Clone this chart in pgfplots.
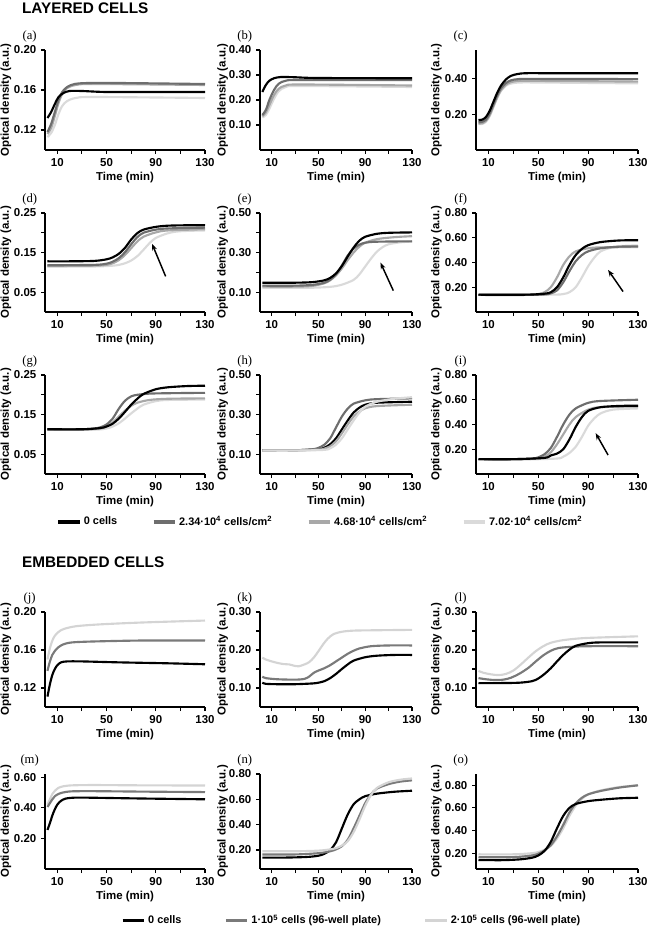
\documentclass[border=0pt]{standalone}
\usepackage{pgfplots}
\pgfplotsset{compat=1.18}
\usepackage{fontspec}
\setmainfont{Liberation Sans}
\newfontfamily\seriffam{Liberation Serif}
\usetikzlibrary{arrows.meta}

\definecolor{cA}{HTML}{000000}
\definecolor{cB}{HTML}{6E6E6E}
\definecolor{cC}{HTML}{A8A8A8}
\definecolor{cD}{HTML}{DADADA}
\definecolor{eB}{HTML}{7A7A7A}
\definecolor{eC}{HTML}{D4D4D4}

\newcommand\tickfont{\bfseries\fontsize{8.6}{9}\selectfont}
\newcommand\labfont{\seriffam\fontsize{9.5}{10}\selectfont}
\newcommand\legfont{\bfseries\fontsize{8.2}{9}\selectfont}
\newcommand\headfont{\bfseries\fontsize{11.5}{12}\selectfont}

\pgfplotsset{
  panel/.style={
    scale only axis,
    anchor=south west,
    axis x line*=bottom, axis y line*=left,
    axis line style={-, line width=0.8pt},
    tick style={black, line width=0.8pt},
    tick align=outside,
    major tick length=3pt, minor tick length=3pt,
    xmin=0, xmax=130,
    xtick={10,50,90,130}, minor xtick={30,70,110},
    xlabel={Time (min)},
    ylabel={Optical density (a.u.)},
    tick label style={font=\tickfont},
    label style={font=\tickfont},
    xlabel style={yshift=3pt},
    /pgf/number format/assume math mode=true,
    y tick label style={/pgf/number format/.cd, fixed, fixed zerofill, precision=2, /tikz/.cd},
    every axis y label/.style={at={(axis description cs:-0.245,0.5)}, rotate=90, anchor=center, font=\tickfont},
    title style={at={(axis description cs:0,1)}, anchor=center, xshift=-11.5pt, yshift=4.5pt, font=\labfont},
    every axis plot/.append style={line width=1.6pt, smooth, tension=0.5, no markers},
    legend image code/.code={\draw[#1, line width=2.4pt, sharp plot] (0pt,0pt) -- (16pt,0pt);},
  },
  c1/.style={panel, at={(33.75pt,#1)}, width=120pt},
  c2/.style={panel, at={(195pt,#1)}, width=114pt},
  c3/.style={panel, at={(357pt,#1)}, width=121.5pt},
}

\begin{document}
\begin{tikzpicture}
\path[use as bounding box] (0,0) rectangle (489pt,-700.5pt);
\node[anchor=west, font=\headfont] at (13pt,-6.5pt) {LAYERED CELLS};
\node[anchor=west, font=\headfont] at (13pt,-421.5pt) {EMBEDDED CELLS};

% ---------- row 1 ----------
\begin{axis}[c1={-112.5pt}, height=75pt, title={(a)}, ymin=0.10, ymax=0.20, ytick={0.12,0.16,0.20}]
\addplot[cD] coordinates {(2,0.113)(5,0.117)(8,0.125)(11,0.136)(14,0.144)(18,0.149)(25,0.152)(40,0.153)(130,0.152)};
\addplot[cC] coordinates {(2,0.116)(5,0.122)(8,0.134)(11,0.147)(14,0.156)(18,0.162)(25,0.165)(40,0.166)(130,0.165)};
\addplot[cB] coordinates {(2,0.118)(5,0.126)(8,0.138)(11,0.150)(14,0.158)(18,0.163)(24,0.166)(35,0.167)(60,0.167)(130,0.166)};
\addplot[cA] coordinates {(2,0.132)(5,0.138)(8,0.146)(11,0.153)(15,0.157)(20,0.159)(30,0.159)(50,0.158)(90,0.158)(130,0.158)};
\end{axis}

\begin{axis}[c2={-112.5pt}, height=75pt, title={(b)}, ymin=0, ymax=0.40, ytick={0.10,0.20,0.30,0.40}]
\addplot[cD] coordinates {(2,0.13)(5,0.14)(8,0.165)(12,0.205)(16,0.235)(22,0.252)(35,0.256)(130,0.252)};
\addplot[cC] coordinates {(2,0.135)(5,0.15)(8,0.18)(12,0.22)(16,0.245)(22,0.258)(35,0.262)(130,0.258)};
\addplot[cB] coordinates {(2,0.14)(5,0.16)(8,0.20)(12,0.24)(16,0.265)(22,0.277)(35,0.28)(130,0.28)};
\addplot[cA] coordinates {(2,0.232)(5,0.26)(8,0.277)(12,0.287)(18,0.292)(30,0.291)(50,0.288)(130,0.287)};
\end{axis}

\begin{axis}[c3={-112.5pt}, height=75pt, title={(c)}, ymin=0, ymax=0.56, ytick={0.20,0.40}]
\addplot[cD] coordinates {(2,0.145)(5,0.146)(8,0.158)(11,0.19)(14,0.24)(17,0.29)(20,0.33)(24,0.36)(28,0.372)(35,0.378)(50,0.378)(130,0.373)};
\addplot[cC] coordinates {(2,0.148)(5,0.15)(8,0.163)(11,0.195)(14,0.245)(17,0.295)(20,0.335)(24,0.365)(28,0.38)(35,0.387)(50,0.387)(130,0.383)};
\addplot[cB] coordinates {(2,0.155)(5,0.158)(8,0.17)(11,0.205)(14,0.255)(17,0.305)(20,0.345)(24,0.375)(28,0.39)(34,0.397)(45,0.398)(130,0.397)};
\addplot[cA] coordinates {(2,0.168)(5,0.17)(8,0.185)(11,0.22)(14,0.27)(17,0.32)(20,0.36)(24,0.395)(28,0.415)(33,0.425)(40,0.43)(60,0.43)(130,0.43)};
\end{axis}

% ---------- row 2 ----------
\begin{axis}[c1={-234pt}, height=74.25pt, title={(d)}, ymin=0, ymax=0.25, ytick={0.05,0.15,0.25}, minor ytick={0.10,0.20}]
\addplot[cD] coordinates {(2,0.115)(40,0.115)(55,0.117)(60,0.119)(65,0.123)(70,0.13)(75,0.141)(80,0.157)(85,0.174)(90,0.187)(100,0.199)(110,0.204)(130,0.206)};
\addplot[cC] coordinates {(2,0.116)(40,0.117)(50,0.119)(55,0.123)(60,0.131)(65,0.144)(70,0.161)(75,0.178)(80,0.19)(90,0.201)(100,0.206)(130,0.209)};
\addplot[cB] coordinates {(2,0.118)(40,0.119)(50,0.122)(55,0.127)(60,0.136)(65,0.151)(70,0.171)(75,0.189)(80,0.2)(90,0.208)(100,0.211)(130,0.213)};
\addplot[cA] coordinates {(2,0.128)(20,0.128)(40,0.129)(50,0.133)(55,0.138)(60,0.147)(65,0.162)(70,0.183)(75,0.199)(80,0.208)(90,0.215)(100,0.218)(115,0.219)(130,0.219)};
\draw[-{Stealth[length=5pt]}, line width=1.1pt] (axis cs:98,0.09) -- (axis cs:87,0.172);
\end{axis}

\begin{axis}[c2={-234pt}, height=74.25pt, title={(e)}, ymin=0, ymax=0.50, ytick={0.10,0.30,0.50}, minor ytick={0.20,0.40}]
\addplot[cD] coordinates {(2,0.122)(40,0.122)(60,0.127)(70,0.138)(80,0.162)(85,0.19)(90,0.23)(95,0.27)(100,0.305)(105,0.328)(110,0.342)(120,0.352)(130,0.356)};
\addplot[cC] coordinates {(2,0.128)(30,0.128)(45,0.132)(55,0.145)(60,0.16)(65,0.185)(70,0.22)(75,0.262)(80,0.3)(85,0.33)(90,0.35)(100,0.368)(115,0.378)(130,0.383)};
\addplot[cB] coordinates {(2,0.133)(30,0.133)(45,0.137)(55,0.148)(60,0.163)(65,0.19)(70,0.235)(75,0.285)(80,0.32)(85,0.34)(90,0.35)(100,0.355)(130,0.357)};
\addplot[cA] coordinates {(2,0.148)(30,0.148)(45,0.151)(55,0.16)(60,0.172)(65,0.195)(70,0.232)(75,0.28)(80,0.325)(85,0.36)(90,0.38)(100,0.395)(110,0.4)(130,0.402)};
\draw[-{Stealth[length=5pt]}, line width=1.1pt] (axis cs:114,0.108) -- (axis cs:103,0.25);
\end{axis}

\begin{axis}[c3={-234pt}, height=74.25pt, title={(f)}, ymin=0, ymax=0.80, ytick={0.20,0.40,0.60,0.80}]
\addplot[cD] coordinates {(2,0.14)(60,0.14)(70,0.145)(75,0.16)(80,0.2)(85,0.28)(90,0.37)(95,0.44)(100,0.49)(110,0.525)(120,0.535)(130,0.538)};
\addplot[cC] coordinates {(2,0.14)(40,0.14)(50,0.145)(55,0.16)(60,0.2)(65,0.28)(70,0.38)(75,0.45)(80,0.49)(90,0.515)(100,0.522)(130,0.525)};
\addplot[cB] coordinates {(2,0.138)(40,0.138)(55,0.142)(60,0.15)(65,0.175)(70,0.24)(75,0.33)(80,0.41)(85,0.46)(90,0.49)(100,0.515)(115,0.528)(130,0.53)};
\addplot[cA] coordinates {(2,0.14)(40,0.14)(55,0.148)(60,0.16)(65,0.2)(70,0.28)(75,0.38)(80,0.46)(85,0.51)(90,0.54)(100,0.565)(115,0.578)(130,0.58)};
\draw[-{Stealth[length=5pt]}, line width=1.1pt] (axis cs:118,0.165) -- (axis cs:106,0.34);
\end{axis}

% ---------- row 3 ----------
\begin{axis}[c1={-355.5pt}, height=74.25pt, title={(g)}, ymin=0, ymax=0.25, ytick={0.05,0.15,0.25}, minor ytick={0.10,0.20}]
\addplot[cD] coordinates {(2,0.112)(40,0.112)(50,0.115)(55,0.12)(60,0.128)(65,0.14)(70,0.153)(75,0.165)(80,0.175)(90,0.184)(100,0.187)(130,0.188)};
\addplot[cC] coordinates {(2,0.112)(30,0.112)(45,0.115)(50,0.12)(55,0.13)(60,0.145)(65,0.16)(70,0.172)(75,0.18)(85,0.187)(100,0.19)(130,0.191)};
\addplot[cB] coordinates {(2,0.113)(30,0.113)(40,0.115)(45,0.118)(50,0.125)(55,0.14)(60,0.165)(65,0.185)(70,0.196)(75,0.2)(85,0.203)(100,0.204)(130,0.205)};
\addplot[cA] coordinates {(2,0.113)(30,0.113)(45,0.116)(50,0.12)(55,0.127)(60,0.14)(65,0.157)(70,0.175)(75,0.19)(80,0.202)(90,0.214)(100,0.219)(115,0.222)(130,0.223)};
\end{axis}

\begin{axis}[c2={-355.5pt}, height=74.25pt, title={(h)}, ymin=0, ymax=0.50, ytick={0.10,0.30,0.50}, minor ytick={0.20,0.40},
  legend columns=4, legend cell align=left,
  legend style={draw=none, fill=none, at={(0.4,-0.485)}, anchor=center, font=\legfont,
    /tikz/every even column/.append style={column sep=24pt}}]
\addplot[cA] coordinates {(2,0.12)(30,0.12)(50,0.125)(55,0.133)(60,0.15)(65,0.18)(70,0.225)(75,0.27)(80,0.31)(85,0.335)(90,0.35)(100,0.36)(130,0.365)};
\addplot[cB] coordinates {(2,0.12)(30,0.12)(45,0.125)(50,0.132)(55,0.148)(60,0.18)(65,0.235)(70,0.29)(75,0.33)(80,0.355)(90,0.372)(100,0.378)(130,0.382)};
\addplot[cC] coordinates {(2,0.12)(30,0.12)(50,0.123)(55,0.128)(60,0.14)(65,0.165)(70,0.205)(75,0.25)(80,0.29)(85,0.315)(90,0.332)(100,0.343)(130,0.35)};
\addplot[cD] coordinates {(2,0.118)(30,0.118)(55,0.122)(60,0.13)(65,0.148)(70,0.18)(75,0.225)(80,0.27)(85,0.31)(90,0.34)(100,0.365)(115,0.38)(130,0.388)};
\legend{0 cells, 2.34·10\textsuperscript{4} cells/cm\textsuperscript{2}, 4.68·10\textsuperscript{4} cells/cm\textsuperscript{2}, 7.02·10\textsuperscript{4} cells/cm\textsuperscript{2}}
\end{axis}

\begin{axis}[c3={-355.5pt}, height=74.25pt, title={(i)}, ymin=0, ymax=0.80, ytick={0.20,0.40,0.60,0.80}]
\addplot[cD] coordinates {(2,0.118)(40,0.118)(65,0.125)(70,0.14)(75,0.17)(80,0.22)(85,0.3)(90,0.39)(95,0.45)(100,0.49)(110,0.52)(130,0.53)};
\addplot[cC] coordinates {(2,0.118)(30,0.118)(50,0.125)(55,0.14)(60,0.175)(65,0.24)(70,0.32)(75,0.4)(80,0.46)(90,0.52)(100,0.54)(130,0.545)};
\addplot[cB] coordinates {(2,0.12)(30,0.12)(45,0.125)(50,0.135)(55,0.16)(60,0.21)(65,0.3)(70,0.4)(75,0.48)(80,0.53)(90,0.575)(100,0.59)(130,0.6)};
\addplot[cA] coordinates {(2,0.12)(30,0.12)(55,0.13)(60,0.15)(65,0.165)(70,0.2)(75,0.28)(80,0.38)(85,0.46)(90,0.51)(100,0.54)(115,0.55)(130,0.552)};
\draw[-{Stealth[length=5pt]}, line width=1.1pt] (axis cs:106,0.153) -- (axis cs:96,0.33);
\end{axis}

% ---------- row 4 ----------
\begin{axis}[c1={-530.25pt}, height=71.25pt, title={(j)}, ymin=0.10, ymax=0.20, ytick={0.12,0.16,0.20}]
\addplot[eC] coordinates {(2,0.15)(4,0.162)(6,0.17)(8,0.175)(11,0.179)(15,0.182)(25,0.185)(45,0.187)(80,0.189)(130,0.191)};
\addplot[eB] coordinates {(2,0.138)(4,0.148)(6,0.155)(8,0.159)(11,0.163)(15,0.166)(22,0.168)(40,0.169)(80,0.17)(130,0.17)};
\addplot[cA] coordinates {(2,0.111)(4,0.124)(6,0.134)(8,0.14)(10,0.144)(13,0.147)(18,0.148)(30,0.148)(60,0.147)(100,0.146)(130,0.145)};
\end{axis}

\begin{axis}[c2={-530.25pt}, height=71.25pt, title={(k)}, ymin=0.05, ymax=0.30, ytick={0.10,0.20,0.30}, minor ytick={0.15,0.25}]
\addplot[eC] coordinates {(2,0.18)(5,0.175)(10,0.17)(15,0.166)(20,0.163)(25,0.162)(30,0.158)(33,0.157)(38,0.162)(42,0.168)(46,0.18)(50,0.197)(54,0.215)(58,0.23)(63,0.242)(70,0.248)(80,0.251)(100,0.252)(130,0.253)};
\addplot[eB] coordinates {(2,0.13)(5,0.126)(15,0.123)(30,0.122)(38,0.124)(42,0.13)(46,0.14)(50,0.146)(55,0.152)(60,0.16)(65,0.17)(70,0.18)(75,0.19)(80,0.198)(85,0.204)(95,0.21)(110,0.212)(130,0.212)};
\addplot[cA] coordinates {(2,0.114)(5,0.111)(15,0.11)(30,0.11)(45,0.112)(50,0.114)(55,0.118)(60,0.126)(65,0.137)(70,0.15)(75,0.162)(80,0.172)(90,0.181)(100,0.185)(115,0.187)(130,0.187)};
\end{axis}

\begin{axis}[c3={-530.25pt}, height=71.25pt, title={(l)}, ymin=0.05, ymax=0.30, ytick={0.10,0.20,0.30}, minor ytick={0.15,0.25}]
\addplot[eC] coordinates {(2,0.145)(6,0.14)(12,0.136)(18,0.134)(24,0.137)(30,0.146)(36,0.162)(42,0.18)(48,0.197)(54,0.21)(60,0.219)(70,0.226)(85,0.231)(100,0.233)(130,0.236)};
\addplot[eB] coordinates {(2,0.126)(8,0.123)(15,0.121)(22,0.122)(28,0.127)(35,0.138)(42,0.153)(48,0.17)(54,0.186)(60,0.198)(66,0.205)(75,0.208)(90,0.21)(130,0.21)};
\addplot[cA] coordinates {(2,0.113)(20,0.113)(35,0.114)(45,0.118)(50,0.125)(55,0.137)(60,0.152)(65,0.17)(70,0.187)(75,0.201)(80,0.211)(90,0.218)(100,0.22)(130,0.22)};
\end{axis}

% ---------- row 5 ----------
\begin{axis}[c1={-651.75pt}, height=71.25pt, title={(m)}, ymin=0, ymax=0.62, ytick={0.20,0.40,0.60}]
\addplot[eC] coordinates {(2,0.42)(4,0.455)(6,0.49)(8,0.51)(11,0.53)(15,0.54)(22,0.546)(40,0.548)(80,0.546)(130,0.545)};
\addplot[eB] coordinates {(2,0.405)(4,0.43)(6,0.455)(8,0.475)(11,0.49)(15,0.5)(22,0.507)(40,0.508)(80,0.505)(130,0.502)};
\addplot[cA] coordinates {(2,0.255)(4,0.3)(6,0.35)(8,0.39)(10,0.42)(13,0.445)(17,0.46)(25,0.466)(40,0.465)(80,0.46)(130,0.455)};
\end{axis}

\begin{axis}[c2={-651.75pt}, height=71.25pt, title={(n)}, ymin=0.05, ymax=0.80, ytick={0.20,0.40,0.60,0.80},
  legend columns=3, legend cell align=left,
  legend style={draw=none, fill=none, at={(0.605,-0.54)}, anchor=center, font=\legfont,
    /tikz/every even column/.append style={column sep=30pt}}]
\addplot[cA] coordinates {(2,0.14)(20,0.14)(40,0.145)(50,0.155)(55,0.17)(60,0.2)(65,0.26)(70,0.37)(75,0.48)(80,0.56)(85,0.6)(90,0.625)(100,0.645)(115,0.66)(130,0.668)};
\addplot[eB] coordinates {(2,0.165)(30,0.165)(50,0.175)(60,0.19)(65,0.205)(70,0.23)(75,0.28)(80,0.37)(85,0.47)(90,0.57)(95,0.64)(100,0.685)(110,0.72)(120,0.74)(130,0.75)};
\addplot[eC] coordinates {(2,0.19)(30,0.19)(50,0.195)(60,0.205)(65,0.215)(70,0.235)(75,0.27)(80,0.34)(85,0.44)(90,0.55)(95,0.635)(100,0.69)(110,0.735)(120,0.755)(130,0.765)};
\legend{0 cells, 1·10\textsuperscript{5} cells (96-well plate), 2·10\textsuperscript{5} cells (96-well plate)}
\end{axis}

\begin{axis}[c3={-651.75pt}, height=71.25pt, title={(o)}, ymin=0.06, ymax=0.90, ytick={0.20,0.40,0.60,0.80}]
\addplot[eC] coordinates {(2,0.19)(30,0.19)(45,0.2)(50,0.21)(55,0.23)(60,0.265)(65,0.33)(70,0.42)(75,0.53)(80,0.62)(85,0.68)(90,0.72)(100,0.755)(115,0.785)(130,0.8)};
\addplot[eB] coordinates {(2,0.165)(30,0.165)(45,0.18)(50,0.195)(55,0.225)(60,0.27)(65,0.35)(70,0.45)(75,0.56)(80,0.64)(85,0.69)(90,0.72)(100,0.75)(115,0.78)(130,0.8)};
\addplot[cA] coordinates {(2,0.14)(20,0.138)(35,0.145)(45,0.16)(50,0.18)(55,0.22)(60,0.3)(65,0.42)(70,0.53)(75,0.6)(80,0.635)(90,0.66)(100,0.672)(115,0.685)(130,0.69)};
\end{axis}
\end{tikzpicture}
\end{document}
